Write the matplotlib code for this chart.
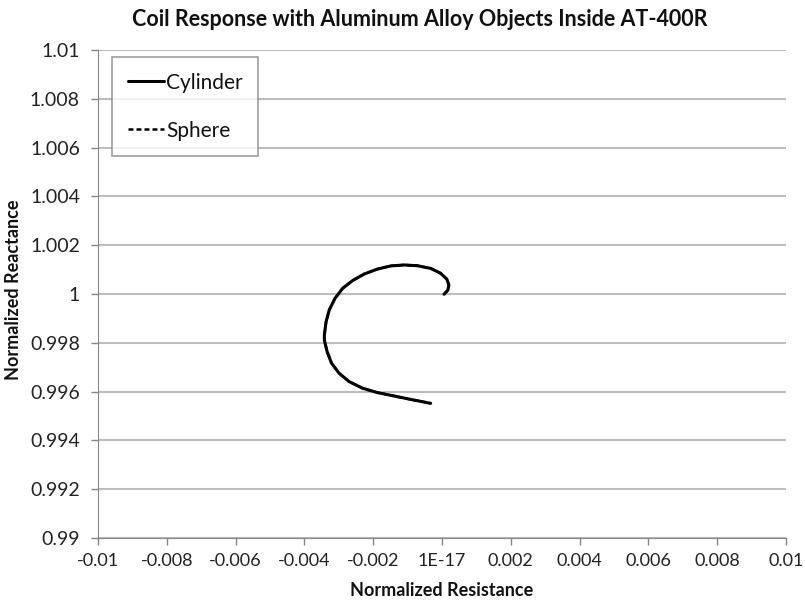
import numpy as np
import matplotlib
matplotlib.use("Agg")
import matplotlib.pyplot as plt

plt.rcParams['font.family'] = ['Lato', 'DejaVu Sans']

# (normalized resistance, normalized reactance)
cyl_r = [0.00006, 0.00017, 0.00020, 0.00014, -0.00004, -0.00033, -0.00072, -0.00110,
         -0.00149, -0.00188, -0.00226, -0.00260, -0.00289, -0.00311, -0.00328, -0.00337,
         -0.00342, -0.00342, -0.00334, -0.00321, -0.00299, -0.00270, -0.00231, -0.00188,
         -0.00139, -0.00091, -0.00033]
cyl_x = [0.99999, 1.00016, 1.00037, 1.00061, 1.00085, 1.00105, 1.00116, 1.00119,
         1.00115, 1.00102, 1.00082, 1.00055, 1.00023, 0.99982, 0.99934, 0.99886,
         0.99832, 0.99811, 0.99764, 0.99716, 0.99675, 0.99641, 0.99614, 0.99596,
         0.99582, 0.99568, 0.99552]
sph_r = list(cyl_r)
sph_x = list(cyl_x)

xticks = [-0.01, -0.008, -0.006, -0.004, -0.002, 0.0, 0.002, 0.004, 0.006, 0.008, 0.01]
xlabels = ["-0.01", "-0.008", "-0.006", "-0.004", "-0.002", "1E-17",
           "0.002", "0.004", "0.006", "0.008", "0.01"]
yticks = [0.99, 0.992, 0.994, 0.996, 0.998, 1.0, 1.002, 1.004, 1.006, 1.008, 1.01]
ylabels = ["0.99", "0.992", "0.994", "0.996", "0.998", "1",
           "1.002", "1.004", "1.006", "1.008", "1.01"]

fig = plt.figure(figsize=(8.05, 6.05), dpi=100)
ax = fig.add_axes([98 / 805, 0.1107, 688 / 805, 0.8067])

ax.plot(cyl_r, cyl_x, color='black', lw=2.2, solid_joinstyle='round',
        solid_capstyle='round', label='Cylinder')
ax.plot(sph_r, sph_x, color='black', lw=1.8, ls=(0, (2, 1.2)), label='Sphere')

ax.set_xlim(-0.01, 0.01)
ax.set_ylim(0.99, 1.01)
ax.set_xticks(xticks)
ax.set_xticklabels(xlabels)
ax.set_yticks(yticks)
ax.set_yticklabels(ylabels)
ax.tick_params(colors='#868686', labelcolor='#222222', length=5, width=1)
ax.tick_params(axis='x', pad=6, labelsize=13)
ax.tick_params(axis='y', pad=8, labelsize=14)

ax.yaxis.grid(True, color='#bdbdbd', lw=1.5)
ax.set_axisbelow(True)
for s in ['top', 'right']:
    ax.spines[s].set_visible(False)
for s in ['left', 'bottom']:
    ax.spines[s].set_color('#868686')

fig.text(420 / 805, 1 - 19 / 605, "Coil Response with Aluminum Alloy Objects Inside AT-400R",
         fontsize=15.5, fontweight='bold', ha='center', va='center', color='#111111')
fig.text(442 / 805, 1 - 591 / 605, "Normalized Resistance", fontsize=13,
         fontweight='bold', ha='center', va='center', color='#111111')
fig.text(14 / 805, 1 - 290 / 605, "Normalized Reactance", fontsize=13, rotation=90,
         fontweight='bold', ha='center', va='center', color='#111111')

leg = ax.legend(loc='upper left', bbox_to_anchor=(0.0203, 0.9857), fontsize=15,
                fancybox=False, edgecolor='#868686', handlelength=1.75,
                handletextpad=0.1, labelspacing=1.35, borderpad=0.75,
                borderaxespad=0)
leg.get_frame().set_linewidth(1.2)
for t in leg.get_texts():
    t.set_color('#111111')

fig.savefig("out.png", dpi=100)
